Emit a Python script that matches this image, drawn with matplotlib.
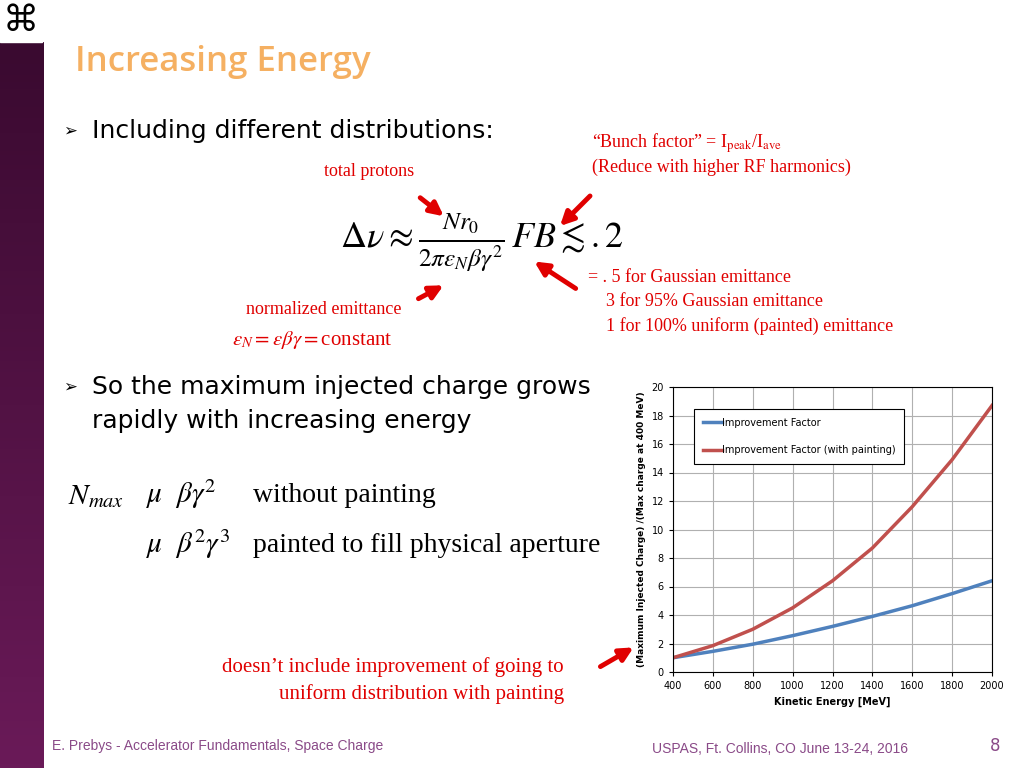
import numpy as np
import matplotlib as mpl
mpl.use("Agg")
import matplotlib.pyplot as plt

mpl.rcParams['mathtext.fontset'] = 'stix'

# chart data
energy = [400, 600, 800, 1000, 1200, 1400, 1600, 1800, 2000]
improve = [1.0, 1.45, 1.95, 2.55, 3.2, 3.9, 4.65, 5.5, 6.4]
improve_paint = [1.0, 1.85, 3.0, 4.5, 6.4, 8.7, 11.6, 14.9, 18.7]
x_ticks = [400, 600, 800, 1000, 1200, 1400, 1600, 1800, 2000]
y_ticks = [0, 2, 4, 6, 8, 10, 12, 14, 16, 18, 20]

W, H = 1024, 768
fig = plt.figure(figsize=(W / 100, H / 100), dpi=100)
bg = fig.add_axes([0, 0, 1, 1])
bg.set_xlim(0, W)
bg.set_ylim(H, 0)
bg.axis('off')

# left purple bar with gradient
grad = np.linspace(0, 1, 200).reshape(-1, 1)
bg.imshow(grad, extent=[0, 44, H, 42], cmap=mpl.colors.LinearSegmentedColormap.from_list(
    'p', ['#3a0a30', '#6a1a58']), aspect='auto', zorder=0)
bg.add_patch(plt.Rectangle((0, 0), 42, 42, color='white', zorder=1))
bg.text(21, 21, '⌘', fontsize=26, ha='center', va='center', color='black')

serif = 'Liberation Serif'
red = '#e00000'
bg.text(75, 62, 'Increasing Energy', fontsize=25, color='#f5b062', fontweight='semibold',
        va='center', family='Open Sans')
bg.text(63, 131, '➢', fontsize=12, va='center')
bg.text(92, 131, 'Including different distributions:', fontsize=18, va='center')
bg.text(324, 172, 'total protons', fontsize=13, color=red, va='center', family=serif)
bg.text(592, 143, '“Bunch factor” = I$_{\\mathrm{peak}}$/I$_{\\mathrm{ave}}$', fontsize=13,
        color=red, va='center', family=serif)
bg.text(592, 167, '(Reduce with higher RF harmonics)', fontsize=13, color=red, va='center', family=serif)
bg.text(340, 243, r'$\Delta\nu \approx \frac{N r_0}{2\pi\epsilon_N\beta\gamma^2}\, FB \lesssim .2$',
        fontsize=26, va='center', family=serif)
bg.text(588, 278, '= . 5 for Gaussian emittance', fontsize=13, color=red, va='center', family=serif)
bg.text(606, 302, '3 for 95% Gaussian emittance', fontsize=13, color=red, va='center', family=serif)
bg.text(606, 326, '1 for 100% uniform (painted) emittance', fontsize=13, color=red, va='center', family=serif)
bg.text(246, 310, 'normalized emittance', fontsize=13, color=red, va='center', family=serif)
bg.text(232, 340, r'$\epsilon_N = \epsilon\beta\gamma = $constant', fontsize=15, color=red,
        va='center', family=serif)
bg.text(63, 387, '➢', fontsize=12, va='center')
bg.text(92, 387, 'So the maximum injected charge grows', fontsize=18, va='center')
bg.text(92, 421, 'rapidly with increasing energy', fontsize=18, va='center')
bg.text(68, 497, r'$N_{max}$', fontsize=21, va='center', family=serif)
bg.text(146, 494, r'$\mu\ \ \beta\gamma^2$', fontsize=21, va='center', family=serif)
bg.text(253, 496, 'without painting', fontsize=20, va='center', family=serif)
bg.text(146, 544, r'$\mu\ \ \beta^2\gamma^3$', fontsize=21, va='center', family=serif)
bg.text(253, 546, 'painted to fill physical aperture', fontsize=20, va='center', family=serif)
bg.text(564, 667, 'doesn’t include improvement of going to', fontsize=15, color=red,
        ha='right', va='center', family=serif)
bg.text(564, 694, 'uniform distribution with painting', fontsize=15, color=red,
        ha='right', va='center', family=serif)
bg.text(52, 746, 'E. Prebys - Accelerator Fundamentals, Space Charge', fontsize=10,
        color='#8a4a88', va='center', family='Liberation Sans')
bg.text(652, 749, 'USPAS, Ft. Collins, CO June 13-24, 2016', fontsize=10,
        color='#8a4a88', va='center', family='Liberation Sans')
bg.text(1000, 746, '8', fontsize=12, color='#8a4a88', ha='right', va='center')

# red arrows
arrows = [((418, 196), (446, 218)), ((416, 300), (446, 284)),
          ((592, 194), (558, 228)), ((578, 290), (532, 260)),
          ((598, 668), (636, 646))]
for (x0, y0), (x1, y1) in arrows:
    bg.annotate('', xy=(x1, y1), xytext=(x0, y0),
                arrowprops=dict(arrowstyle='-|>', color=red, lw=3.5, mutation_scale=20))

# chart
ax = fig.add_axes([673 / W, 1 - 672 / H, 319 / W, 285 / H])
ax.plot(energy, improve, color='#4f81bd', lw=2.5, label='Improvement Factor')
ax.plot(energy, improve_paint, color='#c0504d', lw=2.5, label='Improvement Factor (with painting)')
ax.set_xlim(400, 2000)
ax.set_ylim(0, 20)
ax.set_xticks(x_ticks)
ax.set_yticks(y_ticks)
ax.tick_params(labelsize=7, length=3)
ax.grid(color='#b0b0b0', lw=0.8)
ax.set_xlabel('Kinetic Energy [MeV]', fontsize=7, fontweight='bold')
ax.set_ylabel('(Maximum Injected Charge) /(Max charge at 400 MeV)', fontsize=6.5, fontweight='bold')
leg = ax.legend(loc='upper left', bbox_to_anchor=(0.05, 0.94), fontsize=7, fancybox=False,
                edgecolor='black', framealpha=1, handlelength=2, handletextpad=0,
                labelspacing=1.8, borderpad=0.9)
leg.get_frame().set_linewidth(0.8)

fig.savefig('out.png', dpi=100)
